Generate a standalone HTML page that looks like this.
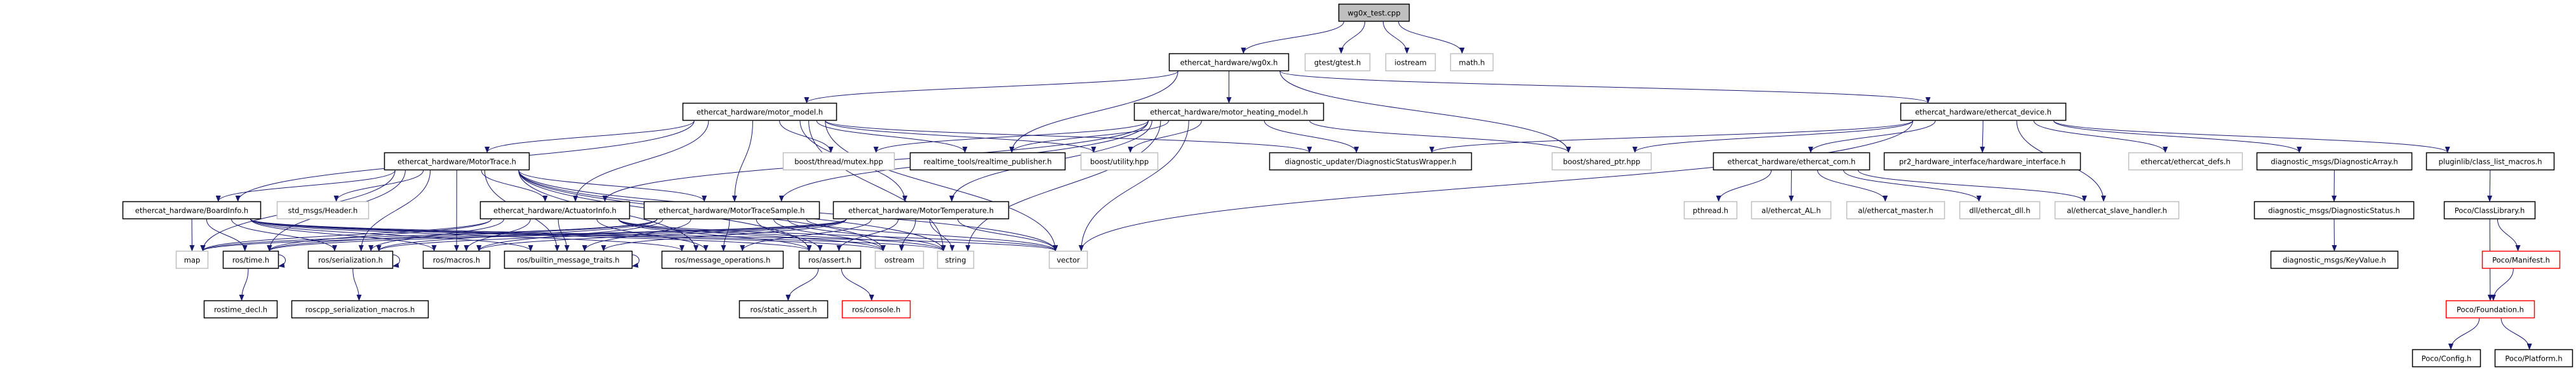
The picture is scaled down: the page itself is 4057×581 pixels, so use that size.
<!DOCTYPE html>
<html><head><meta charset="utf-8">
<style>
html,body{margin:0;padding:0;background:#fff;}
body{width:4057px;height:581px;position:relative;overflow:hidden;font-family:"DejaVu Sans","Liberation Sans",sans-serif;}
svg{position:absolute;left:0;top:0;}
</style></head>
<body>
<svg id="g" width="4057" height="581" xmlns="http://www.w3.org/2000/svg">
<defs><marker id="a" markerWidth="10" markerHeight="8" refX="9" refY="4" orient="auto" markerUnits="userSpaceOnUse"><path d="M0,0 L10,4 L0,8 z" fill="#191970"/></marker></defs>
<g id="edges" fill="none" stroke="#191970" stroke-width="1"></g>
<g id="nodes"></g>
</svg>
<script>
var R=[0,6,84,162,240,317,395,473,550];
var N={
test:[2108,2220,1,'f','wg0x_test.cpp'],
wg0x:[1841,2030,2,'b','ethercat_hardware/wg0x.h'],
gtest:[2055,2158,2,'g','gtest/gtest.h'],
iostream:[2182,2261,2,'g','iostream'],
math:[2284,2352,2,'g','math.h'],
mm:[1075,1318,3,'b','ethercat_hardware/motor_model.h'],
mhm:[1786,2085,3,'b','ethercat_hardware/motor_heating_model.h'],
dev:[2993,3254,3,'b','ethercat_hardware/ethercat_device.h'],
mt:[605,834,4,'b','ethercat_hardware/MotorTrace.h'],
mutex:[1233,1409,4,'g','boost/thread/mutex.hpp'],
rtp:[1433,1678,4,'b','realtime_tools/realtime_publisher.h'],
util:[1702,1824,4,'g','boost/utility.hpp'],
dsw:[1999,2318,4,'b','diagnostic_updater/DiagnosticStatusWrapper.h'],
sptr:[2444,2601,4,'g','boost/shared_ptr.hpp'],
com:[2698,2945,4,'b','ethercat_hardware/ethercat_com.h'],
hw:[2967,3277,4,'b','pr2_hardware_interface/hardware_interface.h'],
defs:[3352,3532,4,'g','ethercat/ethercat_defs.h'],
da:[3554,3799,4,'b','diagnostic_msgs/DiagnosticArray.h'],
clm:[3821,4023,4,'b','pluginlib/class_list_macros.h'],
bi:[193,411,5,'b','ethercat_hardware/BoardInfo.h'],
hdr:[436,581,5,'g','std_msgs/Header.h'],
ai:[756,992,5,'b','ethercat_hardware/ActuatorInfo.h'],
mts:[1014,1291,5,'b','ethercat_hardware/MotorTraceSample.h'],
mtemp:[1312,1589,5,'b','ethercat_hardware/MotorTemperature.h'],
pth:[2652,2736,5,'g','pthread.h'],
al:[2758,2884,5,'g','al/ethercat_AL.h'],
mas:[2908,3063,5,'g','al/ethercat_master.h'],
dll:[3086,3213,5,'g','dll/ethercat_dll.h'],
sh:[3236,3432,5,'g','al/ethercat_slave_handler.h'],
ds:[3550,3802,5,'b','diagnostic_msgs/DiagnosticStatus.h'],
cl:[3849,3993,5,'b','Poco/ClassLibrary.h'],
map:[277,328,6,'g','map'],
time:[351,439,6,'b','ros/time.h'],
ser:[485,619,6,'b','ros/serialization.h'],
mac:[666,772,6,'b','ros/macros.h'],
bmt:[794,996,6,'b','ros/builtin_message_traits.h'],
mo:[1042,1234,6,'b','ros/message_operations.h'],
as:[1258,1356,6,'b','ros/assert.h'],
os:[1378,1455,6,'g','ostream'],
str:[1476,1534,6,'g','string'],
vec:[1652,1713,6,'g','vector'],
kv:[3576,3777,6,'b','diagnostic_msgs/KeyValue.h'],
man:[3909,4032,6,'r','Poco/Manifest.h'],
rtd:[321,437,7,'b','rostime_decl.h'],
rsm:[459,675,7,'b','roscpp_serialization_macros.h'],
sa:[1164,1304,7,'b','ros/static_assert.h'],
con:[1326,1434,7,'r','ros/console.h'],
fnd:[3852,3992,7,'r','Poco/Foundation.h'],
cfg:[3799,3907,8,'b','Poco/Config.h'],
plat:[3929,4052,8,'b','Poco/Platform.h']
};
var msg=['map','time','ser','mac','bmt','mo','as','os','str','vec'];
var E=[['test','wg0x'],['test','gtest'],['test','iostream'],['test','math'],
['wg0x','mm'],['wg0x','rtp'],['wg0x','mhm'],['wg0x','sptr'],['wg0x','dev'],
['mm','mt'],['mm','bi'],['mm','ai'],['mm','mts'],['mm','mutex'],['mm','rtp'],['mm','util'],['mm','dsw'],['mm','vec'],['mm','str'],['mm','mtemp'],
['mhm','mutex'],['mhm','rtp'],['mhm','util'],['mhm','dsw'],['mhm','sptr'],['mhm','mts'],['mhm','mtemp'],['mhm','ai'],['mhm','str'],['mhm','vec'],
['dev','dsw'],['dev','vec'],['dev','com'],['dev','hw'],['dev','defs'],['dev','da'],['dev','clm'],['dev','sh'],['dev','sptr'],
['com','pth'],['com','al'],['com','mas'],['com','dll'],['com','sh'],
['da','ds'],['ds','kv'],['clm','cl'],['cl','man'],['cl','fnd'],['man','fnd'],['fnd','cfg'],['fnd','plat'],
['mt','bi'],['mt','hdr'],['mt','ai'],['mt','mts'],
['time','rtd'],['ser','rsm'],['as','sa'],['as','con']];
['mt','bi','ai','mts','mtemp'].forEach(function(s){msg.forEach(function(t){E.push([s,t]);});});
var ns='http://www.w3.org/2000/svg',eg=document.getElementById('edges'),ng=document.getElementById('nodes');
function el(n,a,p){var e=document.createElementNS(ns,n);for(var k in a)e.setAttribute(k,a[k]);p.appendChild(e);return e;}
E.forEach(function(e){var s=N[e[0]],t=N[e[1]];
var scx=(s[0]+s[1])/2,tcx=(t[0]+t[1])/2,hw=(s[1]-s[0])/2*0.85;
var dx=(tcx-scx)*0.25;if(dx>hw)dx=hw;if(dx<-hw)dx=-hw;
var sx=scx+dx,sy=R[s[2]]+28,tx=tcx+Math.max(-(t[1]-t[0])/3,Math.min((t[1]-t[0])/3,(scx-tcx)*0.1)),ty=R[t[2]];
var my=(ty-sy)*0.5;
el('path',{d:'M'+sx+','+sy+' C'+sx+','+(sy+my)+' '+tx+','+(ty-my)+' '+tx+','+ty,'marker-end':'url(#a)'},eg);});
['time','ser','bmt'].forEach(function(k){var n=N[k],y=R[n[2]];
el('path',{d:'M'+n[1]+','+(y+6)+' C'+(n[1]+14)+','+(y+8)+' '+(n[1]+14)+','+(y+22)+' '+n[1]+','+(y+24),'marker-end':'url(#a)'},eg);});
for(var k in N){var n=N[k],y=R[n[2]];
var st={b:'#000',g:'#bfbfbf',r:'#ff0000',f:'#000'}[n[3]];
el('rect',{x:n[0]+0.5,y:y+0.5,width:n[1]-n[0]-1,height:27,fill:n[3]=='f'?'#bfbfbf':'#fff',stroke:st,'stroke-width':n[3]=='g'?1.5:1.5},ng);
var t=el('text',{x:(n[0]+n[1])/2,y:y+18.5,'text-anchor':'middle','font-size':'11.5','font-family':'DejaVu Sans, Liberation Sans, sans-serif',fill:'#000'},ng);
t.textContent=n[4];}
</script>
</body></html>
